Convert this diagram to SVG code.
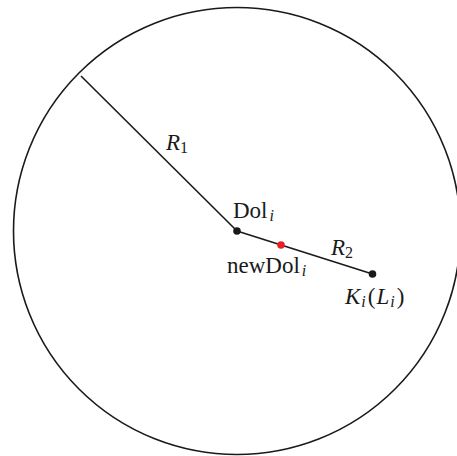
<svg xmlns="http://www.w3.org/2000/svg" width="457" height="456" viewBox="0 0 457 456">
<style>
.t{font-family:"Liberation Serif","Times New Roman",serif;font-size:23px;fill:#1a1a1a}
.i{font-style:italic}
.s{font-size:16px}
.ln{stroke:#1a1a1a;stroke-width:1.6;fill:none}
</style>
<rect width="457" height="456" fill="#fff"/>
<circle cx="237" cy="231" r="223.5" class="ln"/>
<g id="connectors">
<line x1="81" y1="76" x2="237" y2="231" class="ln"/>
<line x1="237" y1="231" x2="372.5" y2="274" class="ln"/>
</g>
<g id="dol"><circle cx="237" cy="231" r="3.8" fill="#1a1a1a"/><text class="t" x="233" y="218">Dol<tspan class="i s" dx="2" dy="3">i</tspan></text></g>
<g id="newdol"><circle cx="281" cy="245" r="3.8" fill="#e8202a"/><text class="t" x="227" y="273">newDol<tspan class="i s" dx="2" dy="3">i</tspan></text></g>
<g id="k"><circle cx="372.5" cy="274" r="3.8" fill="#1a1a1a"/><text class="t" x="345" y="304"><tspan class="i">K</tspan><tspan class="i s" dy="3" dx="1">i</tspan><tspan dy="-3" dx="2">(</tspan><tspan class="i" dx="1">L</tspan><tspan class="i s" dy="3" dx="1">i</tspan><tspan dy="-3" dx="2">)</tspan></text></g>
<g id="r1"><text class="t" x="166" y="150"><tspan class="i">R</tspan><tspan class="s" dy="3">1</tspan></text></g>
<g id="r2"><text class="t" x="331" y="255"><tspan class="i">R</tspan><tspan class="s" dy="3">2</tspan></text></g>
</svg>
